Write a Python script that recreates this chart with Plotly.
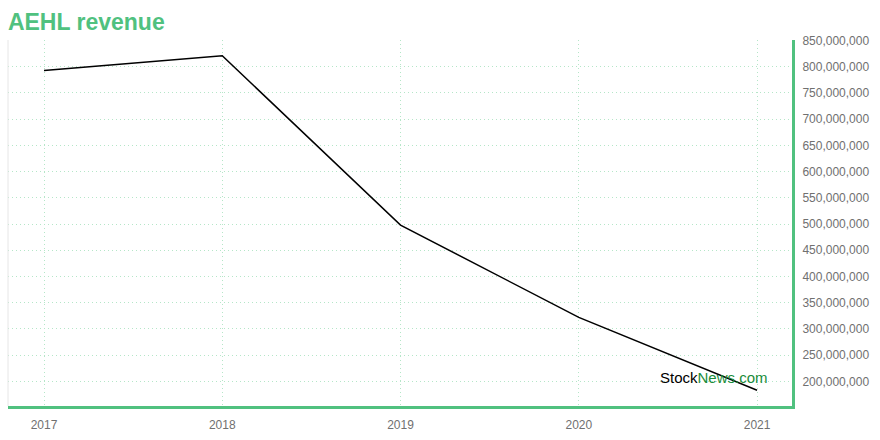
import plotly.graph_objects as go

years = [2017, 2018, 2019, 2020, 2021]
revenue = [793_000_000, 821_000_000, 498_000_000, 322_000_000, 183_000_000]
tick_vals = list(range(200_000_000, 850_000_001, 50_000_000))
tick_text = [f"{v:,}" for v in tick_vals]

green = "#50c17f"
fig = go.Figure()
fig.add_trace(go.Scatter(x=years, y=revenue, mode="lines",
                         line=dict(color="black", width=1.5), hoverinfo="x+y"))

fig.update_layout(
    width=880, height=440,
    margin=dict(l=8, r=88, t=40, b=31),
    paper_bgcolor="white", plot_bgcolor="white",
    showlegend=False,
    font=dict(family="Liberation Sans, Arial, sans-serif", size=12, color="#707070"),
    title=dict(text="<b>AEHL revenue</b>", x=0.009, xanchor="left", y=0.95, yanchor="middle",
               font=dict(size=23, color=green, family="Liberation Sans, Arial, sans-serif")),
)
fig.update_xaxes(range=[2016.798, 2021.196], tickvals=years, ticktext=[str(y) for y in years],
                 showgrid=True, gridcolor="#b5e6c8", griddash="1px,3px", gridwidth=1,
                 showline=True, linecolor=green, linewidth=3, zeroline=False,
                 ticks="", ticklabelstandoff=6)
fig.update_yaxes(range=[153_000_000, 851_000_000], side="right", tickvals=tick_vals, ticktext=tick_text,
                 showgrid=True, gridcolor="#b5e6c8", griddash="1px,3px", gridwidth=1,
                 showline=True, linecolor=green, linewidth=3, zeroline=False,
                 ticks="", ticklabelstandoff=5)
fig.add_shape(type="line", xref="paper", yref="paper", x0=0, x1=0, y0=0, y1=1,
              line=dict(color="#e6e6e6", width=1))
fig.add_annotation(xref="x", yref="y", x=2020.76, y=208_000_000,
                   text="<span style='color:black'>Stock</span><span style='color:#1a8c3a'>News.com</span>",
                   showarrow=False, font=dict(size=15, family="Liberation Sans, Arial, sans-serif"))
fig.write_html("out.html", config={"displayModeBar": False},
               post_script="document.body.style.margin='0';document.body.style.overflow='hidden';")
